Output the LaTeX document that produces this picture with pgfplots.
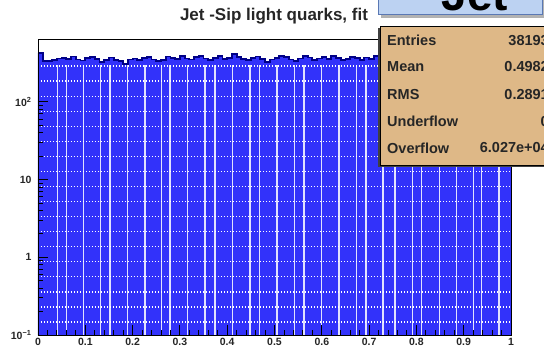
\documentclass[border=0pt]{standalone}
\usepackage{fontspec}
\setmainfont{Liberation Sans}
\usepackage{pgfplots}
\usepackage{pgfplotstable}
\pgfplotsset{compat=1.18}

\definecolor{histfill}{RGB}{50,50,250}
\definecolor{histline}{RGB}{0,0,135}
\definecolor{statbg}{RGB}{222,184,135}
\definecolor{jetbg}{RGB}{188,210,242}
\definecolor{jetedge}{RGB}{90,120,180}

% bin contents, 100 bins on [0,1] (last row closes the final bin)
\pgfplotstableread{
x y
0.00 425
0.01 338
0.02 332
0.03 347
0.04 362
0.05 371
0.06 360
0.07 383
0.08 352
0.09 341
0.10 366
0.11 378
0.12 354
0.13 329
0.14 347
0.15 372
0.16 345
0.17 336
0.18 309
0.19 352
0.20 361
0.21 344
0.22 367
0.23 375
0.24 352
0.25 332
0.26 348
0.27 383
0.28 371
0.29 356
0.30 392
0.31 362
0.32 351
0.33 377
0.34 388
0.35 362
0.36 345
0.37 371
0.38 386
0.39 356
0.40 366
0.41 412
0.42 378
0.43 359
0.44 343
0.45 368
0.46 383
0.47 357
0.48 326
0.49 352
0.50 368
0.51 391
0.52 376
0.53 352
0.54 339
0.55 362
0.56 385
0.57 372
0.58 349
0.59 361
0.60 378
0.61 353
0.62 392
0.63 369
0.64 344
0.65 358
0.66 381
0.67 367
0.68 348
0.69 373
0.70 356
0.71 389
0.72 366
0.73 351
0.74 336
0.75 364
0.76 383
0.77 372
0.78 344
0.79 357
0.80 369
0.81 352
0.82 331
0.83 363
0.84 378
0.85 359
0.86 388
0.87 371
0.88 346
0.89 362
0.90 374
0.91 355
0.92 381
0.93 366
0.94 349
0.95 372
0.96 358
0.97 384
0.98 368
0.99 352
1.00 352
}\histdata

\begin{document}
\begin{tikzpicture}[x=1pt,y=1pt]
\useasboundingbox (0,0) rectangle (544,351);
\clip (0,0) rectangle (544,351);

\begin{axis}[
  at={(38pt,16pt)}, anchor=south west,
  scale only axis, width=473pt, height=295.5pt,
  xmin=0, xmax=1,
  ymode=log, ymin=0.1, ymax=635,
  log origin y=infty,
  axis on top,
  tick pos=left,
  tick align=inside,
  major tick length=10pt, minor tick length=5pt,
  every tick/.style={black, line width=0.9pt},
  axis line style={black, line width=0.9pt},
  xtick={0,0.1,0.2,0.3,0.4,0.5,0.6,0.7,0.8,0.9,1},
  xticklabels={0,0.1,0.2,0.3,0.4,0.5,0.6,0.7,0.8,0.9,1},
  minor x tick num=4,
  ytick={0.1,1,10,100},
  yticklabels={10\textsuperscript{−1},1,10,10\textsuperscript{2}},
  /pgf/number format/assume math mode=true,
  tick label style={font=\fontsize{10.5}{11}\selectfont\bfseries, text=black!85},
  xticklabel style={yshift=0pt},
  yticklabel style={xshift=-3pt},
]
% histogram body
\addplot[ybar interval, fill=histfill, draw=none] table[x=x, y=y] {\histdata};

% white vertical streaks across the bars
\pgfplotsinvokeforeach{0.0408,0.0607,0.0958,0.1326,0.1522,0.1888,0.2262,0.2615,0.2791,0.3156,0.3531,0.3742,0.4112,0.4482,0.4683,0.5053,0.5423,0.5624,0.5994,0.6364,0.6734,0.6934,0.7294,0.7548,0.7913,0.8112,0.8484,0.8852,0.9203,0.9381,0.9746}{
  \draw[white, line width=1.2pt, opacity=0.85] (axis cs:#1,0.1) -- (axis cs:#1,300);
}
% white dotted rows
\pgfplotsinvokeforeach{0.1469,0.2296,0.3581,0.5598,0.8750,1.368,2.138,3.342,5.212,8.147,12.74,19.91,31.12,48.64,75.86,118.6,185.4,289.7}{
  \draw[white, line width=1.1pt, dash pattern=on 1.1pt off 1.9pt] (axis cs:0,#1) -- (axis cs:1,#1);
}

% histogram outline
\addplot[const plot, histline, line width=1.8pt] table[x=x, y=y] {\histdata};
\end{axis}

% title
\node[font=\fontsize{17}{17}\selectfont\bfseries, text=black!85] at (274,335) {Jet -Sip light quarks, fit};

% statistics box
\fill[black!75] (378,184) rectangle (556,323);
\draw[fill=statbg, line width=0.8pt] (380,186) rectangle (556,325);
\begin{scope}[every node/.style={font=\fontsize{14.5}{14.5}\selectfont\bfseries, text=black!85, inner sep=0pt}]
\node[anchor=west] at (387,310.5) {Entries};
\node[anchor=east] at (549,310.5) {38193};
\node[anchor=west] at (387,284) {Mean};
\node[anchor=east] at (549,284) {0.4982};
\node[anchor=west] at (387,256.5) {RMS};
\node[anchor=east] at (549,256.5) {0.2891};
\node[anchor=west] at (387,229.5) {Underflow};
\node[anchor=east] at (549,229.5) {0};
\node[anchor=west] at (387,203) {Overflow};
\node[anchor=east] at (549,203) {6.027e+04};
\end{scope}

% slide label box
\fill[black!30] (381,333) rectangle (545,360);
\draw[fill=jetbg, draw=jetedge, line width=1pt] (378,336) rectangle (542,362);
\node[anchor=base, inner sep=0pt, font=\fontsize{46}{46}\selectfont\bfseries] at (475,340) {Jet};
\end{tikzpicture}
\end{document}
